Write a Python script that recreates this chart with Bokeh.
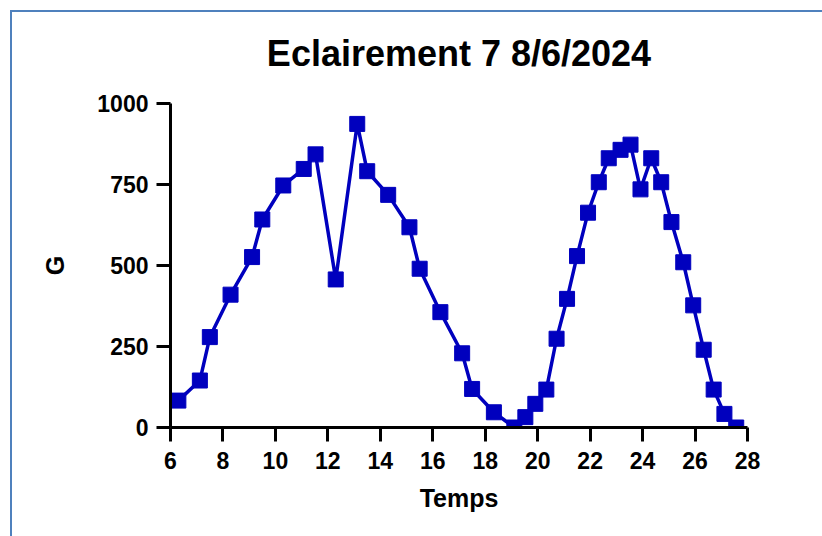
from bokeh.plotting import figure
from bokeh.models import Range1d, FixedTicker, Title
from bokeh.embed import file_html
from bokeh.resources import INLINE

temps = [6.3, 7.12, 7.5, 8.29, 9.11, 9.5, 10.3, 11.08, 11.53, 12.3, 13.12, 13.5,
         14.3, 15.11, 15.5, 16.29, 17.12, 17.5, 18.33, 19.11, 19.53, 19.91, 20.33,
         20.72, 21.12, 21.5, 21.92, 22.33, 22.71, 23.16, 23.54, 23.92, 24.33, 24.71,
         25.1, 25.55, 25.93, 26.33, 26.71, 27.12, 27.57]
g_values = [83, 145, 279, 410, 526, 642, 747, 798, 843, 457, 937, 791,
            718, 618, 490, 356, 229, 119, 47, 0, 32, 73, 117,
            274, 397, 529, 663, 757, 831, 857, 873, 735, 831, 757,
            634, 510, 377, 240, 117, 42, 0]
x_ticks = [6, 8, 10, 12, 14, 16, 18, 20, 22, 24, 26, 28]
y_ticks = [0, 250, 500, 750, 1000]
title_text = "Eclairement 7 8/6/2024"

FONT = "Liberation Sans"
BLUE = "#0000BE"

p = figure(frame_width=577, frame_height=324,
           min_border_left=170, min_border_right=75,
           min_border_top=103, min_border_bottom=109,
           x_range=Range1d(6, 28), y_range=Range1d(0, 1000),
           output_backend="svg", toolbar_location=None,
           background_fill_color="white", border_fill_color=None)
p.outline_line_color = None
p.grid.visible = False
p.styles = {
    "background-color": "white",
    "background-image": "linear-gradient(#4F81BD,#4F81BD), linear-gradient(#4F81BD,#4F81BD)",
    "background-size": "100% 2px, 2px 100%",
    "background-position": "10px 10px, 10px 10px",
    "background-repeat": "no-repeat",
}

p.add_layout(Title(text=title_text, align="center",
                   text_font=FONT, text_font_size="36px", text_font_style="bold",
                   text_color="black", standoff=59), "above")

for ax in (p.xaxis[0], p.yaxis[0]):
    ax.axis_line_width = 3
    ax.axis_line_color = "black"
    ax.major_tick_line_width = 3
    ax.major_tick_line_color = "black"
    ax.major_tick_out = 14
    ax.major_tick_in = 0
    ax.minor_tick_line_color = None
    ax.major_label_text_font = FONT
    ax.major_label_text_font_size = "23px"
    ax.major_label_text_font_style = "bold"
    ax.major_label_text_color = "black"
    ax.axis_label_text_font = FONT
    ax.axis_label_text_font_size = "25px"
    ax.axis_label_text_font_style = "bold"
    ax.axis_label_text_color = "black"

p.xaxis.ticker = FixedTicker(ticks=x_ticks)
p.yaxis.ticker = FixedTicker(ticks=y_ticks)
p.xaxis.axis_label = "Temps"
p.yaxis.axis_label = "G"
p.xaxis.major_label_standoff = 10
p.yaxis.major_label_standoff = 8
p.xaxis.axis_label_standoff = 12
p.yaxis.axis_label_standoff = 25

p.line(temps, g_values, line_width=3.5, line_color=BLUE)
p.scatter(temps, g_values, marker="square", size=15, fill_color=BLUE, line_color=BLUE)

open("out.html", "w").write(file_html(p, INLINE))
